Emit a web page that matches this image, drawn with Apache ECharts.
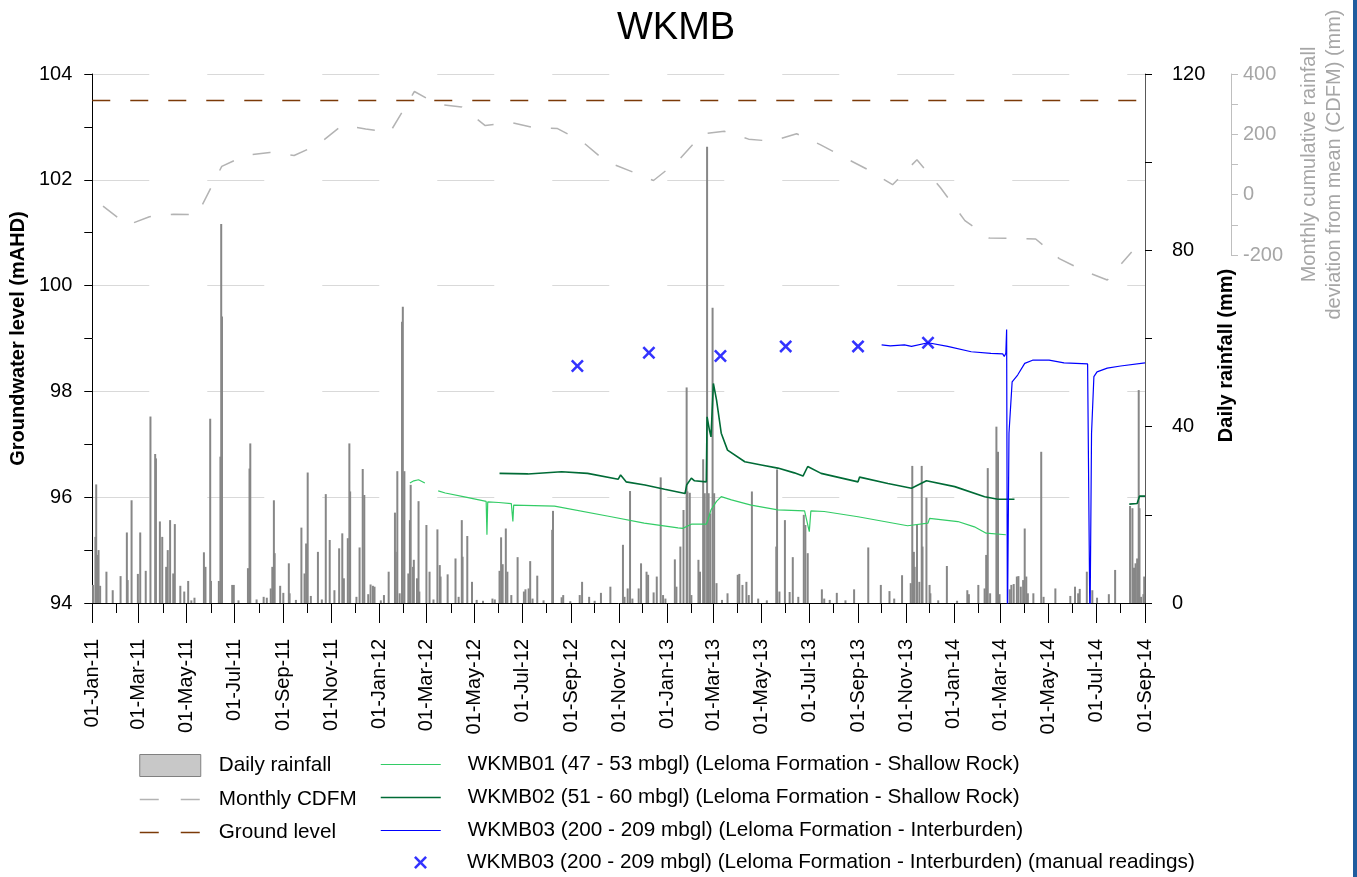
<!DOCTYPE html>
<html><head><meta charset="utf-8">
<script src="https://cdn.jsdelivr.net/npm/echarts@6/dist/echarts.min.js"></script>
<style>html,body{margin:0;padding:0;background:#fff;}#c{width:1357px;height:877px;}</style>
</head><body><div id="c"></div>
<script>
// ---------------- data ----------------
const xStart = '2011-01-01';
const xEnd = '2014-09-01';
const xLabelDates = ['2011-01-01','2011-03-01','2011-05-01','2011-07-01','2011-09-01','2011-11-01',
  '2012-01-01','2012-03-01','2012-05-01','2012-07-01','2012-09-01','2012-11-01',
  '2013-01-01','2013-03-01','2013-05-01','2013-07-01','2013-09-01','2013-11-01',
  '2014-01-01','2014-03-01','2014-05-01','2014-07-01','2014-09-01'];
const xLabels = ['01-Jan-11','01-Mar-11','01-May-11','01-Jul-11','01-Sep-11','01-Nov-11',
  '01-Jan-12','01-Mar-12','01-May-12','01-Jul-12','01-Sep-12','01-Nov-12',
  '01-Jan-13','01-Mar-13','01-May-13','01-Jul-13','01-Sep-13','01-Nov-13',
  '01-Jan-14','01-Mar-14','01-May-14','01-Jul-14','01-Sep-14'];
const xMinorTickDates = ['2011-02-01','2011-04-01','2011-06-01','2011-08-01','2011-10-01','2011-12-01',
  '2012-02-01','2012-04-01','2012-06-01','2012-08-01','2012-10-01','2012-12-01',
  '2013-02-01','2013-04-01','2013-06-01','2013-08-01','2013-10-01','2013-12-01',
  '2014-02-01','2014-04-01','2014-06-01','2014-08-01'];

const groundLevel = 103.5;

const cdfmDates = ['2011-01-15','2011-02-15','2011-03-15','2011-04-15','2011-05-15','2011-06-15','2011-07-15','2011-08-15','2011-09-15','2011-10-15','2011-11-15','2011-12-15',
  '2012-01-15','2012-02-15','2012-03-15','2012-04-15','2012-05-15','2012-06-15','2012-07-15','2012-08-15','2012-09-15','2012-10-15','2012-11-15','2012-12-15',
  '2013-01-15','2013-02-15','2013-03-15','2013-04-15','2013-05-15','2013-06-15','2013-07-15','2013-08-15','2013-09-15','2013-10-15','2013-11-15','2013-12-15',
  '2014-01-15','2014-02-15','2014-03-15','2014-04-15','2014-05-15','2014-06-15','2014-07-15','2014-08-15'];
const cdfmValues = [-38,-101,-73,-65,-66,94,130,140,130,165,230,218,
  207,342,300,291,229,240,223,219,177,111,79,47,
  111,202,210,184,177,202,166,123,81,33,116,23,
  -86,-144,-145,-147,-212,-252,-283,-190];

const dailyRainfall = [
 ['2011-01-02',4.1],['2011-01-05',15],['2011-01-06',26.9],['2011-01-07',10.9],['2011-01-09',12],['2011-01-11',3.9],['2011-01-19',7.1],['2011-01-27',2.9],
 ['2011-02-06',6.1],['2011-02-14',16],['2011-02-15',5.2],['2011-02-20',23.3],['2011-02-28',6.6],['2011-03-03',16],['2011-03-10',7.3],['2011-03-16',42.3],
 ['2011-03-22',33.8],['2011-03-23',32.8],['2011-03-28',18.5],['2011-03-31',15],['2011-04-05',8.2],['2011-04-07',12],['2011-04-10',18.8],['2011-04-14',6.7],
 ['2011-04-16',17.9],['2011-04-23',3.9],['2011-04-28',2.6],['2011-05-03',5],['2011-05-07',0.6],['2011-05-11',1.2],['2011-05-23',11.5],['2011-05-25',8.2],['2011-05-31',41.8],
 ['2011-06-01',5],['2011-06-11',5],['2011-06-13',33.2],['2011-06-14',86],['2011-06-15',65],['2011-06-28',4.1],['2011-06-30',4.1],['2011-07-06',0.6],['2011-07-18',7.9],
 ['2011-07-20',30.5],['2011-07-21',36.2],['2011-07-29',0.8],['2011-08-07',1.4],['2011-08-11',1.2],['2011-08-16',3.3],['2011-08-18',8.2],['2011-08-20',23.3],['2011-08-21',11.3],
 ['2011-08-28',3.9],['2011-09-01',2.3],['2011-09-08',9],['2011-09-09',2.2],['2011-09-17',0.7],['2011-09-24',17.1],['2011-09-28',6.7],['2011-09-30',13.5],['2011-10-02',29.6],
 ['2011-10-06',1.6],['2011-10-15',11.6],['2011-10-20',0.8],['2011-10-25',24.7],['2011-10-30',14.3],['2011-11-05',2.9],['2011-11-11',12.4],['2011-11-15',15.8],['2011-11-17',5.6],
 ['2011-11-22',14.7],['2011-11-24',36.2],['2011-11-25',25.3],['2011-12-03',1.4],['2011-12-07',12.6],['2011-12-11',30.4],['2011-12-13',24.5],['2011-12-18',2],
 ['2011-12-21',4.2],['2011-12-24',3.9],['2011-12-26',3.7],
 ['2012-01-03',0.6],['2012-01-07',1.8],['2012-01-13',7.1],['2012-01-21',20.5],['2012-01-22',11.6],['2012-01-24',29.9],['2012-01-27',2.2],['2012-01-30',63.8],['2012-01-31',67.2],
 ['2012-02-02',29.9],['2012-02-07',6.7],['2012-02-09',18.8],['2012-02-10',26.8],['2012-02-13',8.2],['2012-02-14',9.8],['2012-02-18',5.6],['2012-02-20',23.1],
 ['2012-02-21',2.6],['2012-03-01',17.7],['2012-03-05',7.1],['2012-03-10',0.8],['2012-03-15',16.7],['2012-03-18',8.6],['2012-03-19',6],['2012-03-28',6.5],['2012-04-07',10.1],
 ['2012-04-11',1.4],['2012-04-15',18.8],['2012-04-16',10.5],['2012-04-22',15.2],['2012-04-28',4.8],['2012-05-04',0.7],['2012-05-12',0.5],['2012-05-24',1],['2012-05-27',0.8],
 ['2012-06-02',7.3],['2012-06-04',14.9],['2012-06-06',8.8],['2012-06-10',16.9],['2012-06-12',7.1],['2012-06-17',1.8],['2012-06-25',10.4],['2012-07-03',2.6],
 ['2012-07-05',3.1],['2012-07-09',3.3],['2012-07-11',9.5],['2012-07-14',1],['2012-07-20',6.2],['2012-07-28',0.6],['2012-08-08',16.6],['2012-08-09',20.9],['2012-08-20',1.3],
 ['2012-08-22',1.8],['2012-08-31',0.4],['2012-09-12',1.8],['2012-09-15',4.8],['2012-09-24',1.4],['2012-10-01',0.5],['2012-10-09',2.3],['2012-10-21',3.7],['2012-11-06',13.2],
 ['2012-11-08',1.4],['2012-11-12',3.3],['2012-11-15',25.4],['2012-11-18',1],['2012-11-26',3.3],['2012-11-29',9],['2012-12-06',7.1],['2012-12-08',6.4],
 ['2012-12-15',2.4],['2012-12-19',6],['2012-12-24',28.5],['2012-12-27',1.8],['2012-12-30',1],
 ['2013-01-11',9.9],['2013-01-13',3.7],['2013-01-18',12.8],['2013-01-22',21.1],['2013-01-26',48.9],['2013-01-27',25.3],['2013-01-30',25],['2013-02-01',1.8],
 ['2013-02-10',9.8],['2013-02-12',7.1],['2013-02-16',32.6],['2013-02-18',24.9],['2013-02-21',103.5],['2013-02-23',24.9],['2013-02-25',20.3],['2013-02-28',67],
 ['2013-03-02',24.9],['2013-03-05',4.5],['2013-03-12',0.7],['2013-03-19',2.2],['2013-04-01',6.4],['2013-04-03',6.6],['2013-04-07',4.1],['2013-04-12',4.8],['2013-04-15',1.8],
 ['2013-04-19',25.3],['2013-04-27',1],['2013-05-08',0.6],['2013-05-20',12.8],['2013-05-21',30.3],['2013-05-24',2.6],['2013-05-31',18.8],['2013-06-06',2.5],['2013-06-10',10.4],
 ['2013-06-17',1.4],['2013-06-24',20],['2013-06-26',17.7],['2013-06-29',11.3],['2013-07-17',3.1],['2013-07-20',1],['2013-07-27',0.7],['2013-08-05',2.3],
 ['2013-08-16',0.6],['2013-08-27',3.1],['2013-09-14',12.6],['2013-09-30',4.1],['2013-10-11',2.7],['2013-10-17',1],['2013-10-27',6.3],['2013-11-07',4.5],['2013-11-09',31.1],
 ['2013-11-11',11.6],['2013-11-12',8.2],['2013-11-15',17.7],['2013-11-18',4.8],['2013-11-21',31.1],['2013-11-22',12.8],['2013-11-27',23.9],['2013-12-01',4.1],
 ['2013-12-02',2.2],['2013-12-12',0.6],['2013-12-23',8.4],
 ['2014-01-05',0.5],['2014-01-18',2.9],['2014-01-20',2],['2014-02-01',4.1],['2014-02-09',3.3],['2014-02-11',10.9],['2014-02-13',30.6],['2014-02-16',2.2],['2014-02-24',40],
 ['2014-02-26',34.3],['2014-02-28',2],['2014-03-13',3.1],['2014-03-15',4.1],['2014-03-18',4.3],['2014-03-22',6],['2014-03-24',6.1],['2014-03-27',3.7],
 ['2014-03-30',5.2],['2014-04-01',16.9],['2014-04-03',6],['2014-04-05',2.2],['2014-04-12',2.2],['2014-04-22',34.3],['2014-04-25',1.4],['2014-05-10',3.3],
 ['2014-05-29',1.6],['2014-06-04',3.7],['2014-06-08',2.2],['2014-06-10',3.2],['2014-06-19',7.1],['2014-06-26',2.9],['2014-07-02',1.2],['2014-07-17',2],
 ['2014-07-25',7.5],['2014-08-13',22],['2014-08-16',21.5],['2014-08-18',8],['2014-08-20',9],['2014-08-22',10.1],['2014-08-24',48.3],['2014-08-25',21.5],
 ['2014-08-27',1.4],['2014-08-30',2],['2014-08-31',6]
];

const wkmb01 = [
 ['2012-02-09',96.27],['2012-02-14',96.31],['2012-02-20',96.33],['2012-02-28',96.27],['2012-03-07','-'],['2012-03-16',96.12],['2012-03-25',96.08],
 ['2012-04-20',96.0],['2012-05-16',95.92],['2012-05-17',95.29],['2012-05-18',95.91],['2012-06-01',95.9],['2012-06-17',95.88],['2012-06-19',95.54],
 ['2012-06-20',95.85],['2012-06-21',95.82],['2012-08-11',95.83],['2012-10-22',95.63],['2012-12-03',95.51],['2013-01-15',95.42],['2013-01-21',95.41],
 ['2013-02-01',95.49],['2013-02-20',95.49],['2013-02-22',95.57],['2013-02-26',95.76],['2013-03-05',95.92],['2013-03-11',96.01],['2013-03-24',95.95],
 ['2013-04-18',95.85],['2013-05-22',95.76],['2013-06-25',95.74],['2013-07-01',95.35],['2013-07-03',95.74],['2013-07-20',95.73],['2013-09-01',95.63],
 ['2013-11-03',95.46],['2013-11-29',95.51],['2013-12-01',95.60],['2014-01-06',95.54],['2014-01-27',95.44],['2014-02-11',95.32],['2014-03-08',95.29]
];
const wkmb02 = [
 ['2012-06-02',96.45],['2012-07-08',96.44],['2012-08-20',96.48],['2012-09-22',96.45],['2012-10-31',96.34],['2012-11-03',96.42],['2012-11-10',96.29],
 ['2012-12-04',96.23],['2012-12-29',96.15],['2013-01-24',96.07],['2013-01-26',96.23],['2013-02-01',96.36],['2013-02-05',96.31],['2013-02-20',96.29],
 ['2013-02-21',97.52],['2013-02-24',97.27],['2013-02-26',97.14],['2013-03-01',98.15],['2013-03-05',97.84],['2013-03-11',97.21],['2013-03-19',96.89],
 ['2013-04-10',96.67],['2013-05-01',96.61],['2013-05-22',96.55],['2013-06-12',96.46],['2013-06-23',96.40],['2013-06-29',96.58],['2013-07-16',96.45],
 ['2013-09-01',96.29],['2013-09-03',96.38],['2013-10-09',96.26],['2013-11-08',96.17],['2013-11-27',96.31],['2014-01-02',96.20],['2014-02-09',96.01],
 ['2014-02-26',95.96],['2014-03-19',95.96],['2014-04-01','-'],['2014-08-12',95.87],['2014-08-22',95.88],['2014-08-25',96.02],['2014-09-01',96.02]
];
const wkmb03 = [
 ['2013-10-01',98.88],['2013-10-12',98.86],['2013-10-30',98.88],['2013-11-08',98.85],['2013-11-29',98.92],['2013-12-24',98.85],['2014-01-23',98.75],
 ['2014-02-17',98.72],['2014-03-04',98.71],['2014-03-06',98.66],['2014-03-08',98.72],['2014-03-09',99.17],['2014-03-10',93.5],['2014-03-12',97.21],
 ['2014-03-16',98.18],['2014-03-23',98.31],['2014-04-01',98.53],['2014-04-11',98.59],['2014-05-02',98.59],['2014-05-21',98.54],['2014-06-20',98.52],
 ['2014-06-22',98.52],['2014-06-23',93.5],['2014-06-25',97.21],['2014-06-28',98.28],['2014-07-02',98.37],['2014-07-15',98.44],['2014-08-01',98.48],
 ['2014-09-01',98.54]
];
const wkmb03Manual = [
 ['2012-09-09',98.48],['2012-12-09',98.73],['2013-03-10',98.67],['2013-06-01',98.85],['2013-09-01',98.85],['2013-11-29',98.92]
];

// ---------------- chart ----------------
const ts = s => { const p = s.split('-').map(Number); return new Date(p[0], p[1]-1, p[2]).getTime(); };
const xMin = ts(xStart), xMax = ts(xEnd);
const labelTicks = xLabelDates.map(ts);
const minorTicks = xMinorTickDates.map(ts);
const FONT = '"Liberation Sans", Arial, sans-serif';

const names = {
  rain: 'Daily rainfall', cdfm: 'Monthly CDFM', ground: 'Ground level',
  w1: 'WKMB01 (47 - 53 mbgl) (Leloma Formation - Shallow Rock)',
  w2: 'WKMB02 (51 - 60 mbgl) (Leloma Formation - Shallow Rock)',
  w3: 'WKMB03 (200 - 209 mbgl) (Leloma Formation - Interburden)',
  w3m: 'WKMB03 (200 - 209 mbgl) (Leloma Formation - Interburden) (manual readings)'
};
const colors = {cdfm: '#b3b3b3', ground: '#7b3a08', w1: '#33cc66', w2: '#006b36', w3: '#0000ff'};
const crossPath = 'path://M0,1.4L1.4,0L5,3.6L8.6,0L10,1.4L6.4,5L10,8.6L8.6,10L5,6.4L1.4,10L0,8.6L3.6,5Z';

const chart = echarts.init(document.getElementById('c'), null, {renderer: 'canvas'});
const legendText = pad => ({fontSize: 20.7, color: '#000', fontFamily: FONT, padding: [0, 0, 0, pad]});
const hidden = {opacity: 0};
chart.setOption({
  animation: false,
  textStyle: {fontFamily: FONT},
  title: {text: 'WKMB', left: 612, top: 5, textStyle: {fontSize: 38, fontWeight: 'normal', color: '#000', fontFamily: FONT}},
  graphic: [{type: 'rect', right: 0, top: 0, shape: {width: 4, height: 877}, style: {fill: '#1f5c9e'}}],
  grid: [
    {left: 92, right: 212, top: 74, bottom: 274},
    {left: 92, right: 212, top: 74, height: 181}
  ],
  legend: [
    {orient: 'vertical', left: 139, top: 754, padding: 0, itemWidth: 61, itemHeight: 22, itemGap: 12, selectedMode: false,
     textStyle: legendText(13),
     data: [
       {name: names.rain, icon: 'rect', itemStyle: {color: '#c8c8c8', borderColor: '#808080', borderWidth: 1}},
       {name: names.cdfm, itemStyle: hidden, lineStyle: {color: colors.cdfm, width: 1.5, type: [19, 22]}},
       {name: names.ground, itemStyle: hidden, lineStyle: {color: colors.ground, width: 1.5, type: [19, 22]}}
     ]},
    {orient: 'vertical', left: 380, top: 754, padding: 0, itemWidth: 60, itemHeight: 22, itemGap: 12, selectedMode: false,
     textStyle: legendText(22),
     data: [
       {name: names.w1, itemStyle: hidden, lineStyle: {color: colors.w1, width: 1.2, type: 'solid'}},
       {name: names.w2, itemStyle: hidden, lineStyle: {color: colors.w2, width: 1.5, type: 'solid'}},
       {name: names.w3, itemStyle: hidden, lineStyle: {color: colors.w3, width: 1.2, type: 'solid'}}
     ]},
    {orient: 'vertical', left: 414, top: 852, padding: 0, itemWidth: 13, itemHeight: 13, selectedMode: false,
     textStyle: legendText(35),
     data: [{name: names.w3m, icon: crossPath, itemStyle: {color: colors.w3}}]}
  ],
  xAxis: [
    {type: 'value', gridIndex: 0, min: xMin, max: xMax, scale: true,
     axisLine: {show: true, onZero: false, lineStyle: {color: '#000', width: 1}},
     axisTick: {show: true, customValues: labelTicks, length: 20, lineStyle: {color: '#000'}},
     axisLabel: {show: true, customValues: labelTicks, rotate: 90, fontSize: 20, color: '#000', margin: 36,
       formatter: v => { const i = labelTicks.indexOf(v); return i >= 0 ? xLabels[i] : ''; }},
     splitLine: {show: false}},
    {type: 'value', gridIndex: 1, min: xMin, max: xMax, scale: true, show: false},
    {type: 'value', gridIndex: 0, min: xMin, max: xMax, scale: true, position: 'bottom',
     axisLine: {show: false, onZero: false}, axisLabel: {show: false}, splitLine: {show: false},
     axisTick: {show: true, customValues: minorTicks, length: 10, lineStyle: {color: '#000'}}}
  ],
  yAxis: [
    {type: 'value', gridIndex: 0, min: 94, max: 104, interval: 2, position: 'left',
     axisLine: {show: true, lineStyle: {color: '#000'}},
     axisTick: {show: true, length: 8, lineStyle: {color: '#000'}},
     minorTick: {show: true, splitNumber: 2, length: 8, lineStyle: {color: '#000'}},
     axisLabel: {fontSize: 20, color: '#000', margin: 20},
     splitLine: {show: true, lineStyle: {color: '#d9d9d9', width: 1, type: [57, 58]}},
     name: 'Groundwater level (mAHD)', nameLocation: 'middle', nameGap: 62, nameRotate: 90,
     nameTextStyle: {fontSize: 20, fontWeight: 'bold', color: '#000'}},
    {type: 'value', gridIndex: 0, min: 0, max: 120, interval: 40, position: 'right',
     axisLine: {show: true, lineStyle: {color: '#595959'}},
     axisTick: {show: true, length: 7, lineStyle: {color: '#000'}},
     minorTick: {show: true, splitNumber: 2, length: 7, lineStyle: {color: '#000'}},
     axisLabel: {fontSize: 20, color: '#000', margin: 27},
     splitLine: {show: false},
     name: 'Daily rainfall (mm)', nameLocation: 'middle', nameGap: 59, nameRotate: 90,
     nameTextStyle: {fontSize: 20, fontWeight: 'bold', color: '#000', padding: [0, 34, 0, 0]}},
    {type: 'value', gridIndex: 1, min: -200, max: 400, interval: 200, position: 'right', offset: 86,
     axisLine: {show: true, lineStyle: {color: '#bfbfbf'}},
     axisTick: {show: true, length: 7, lineStyle: {color: '#bfbfbf'}},
     minorTick: {show: true, splitNumber: 2, length: 7, lineStyle: {color: '#bfbfbf'}},
     axisLabel: {fontSize: 20, color: '#a6a6a6', margin: 12},
     splitLine: {show: false},
     name: 'Monthly cumulative rainfall\ndeviation from mean (CDFM) (mm)', nameLocation: 'middle', nameGap: 66, nameRotate: 90,
     nameTextStyle: {fontSize: 20, color: '#a6a6a6', lineHeight: 25, align: 'center'}}
  ],
  series: [
    {name: names.rain, type: 'bar', xAxisIndex: 0, yAxisIndex: 1, barWidth: 2,
     itemStyle: {color: '#878787'}, data: dailyRainfall.map(d => [ts(d[0]), d[1]])},
    {name: names.cdfm, type: 'line', xAxisIndex: 1, yAxisIndex: 2, symbol: 'none', showSymbol: false, clip: false,
     itemStyle: {color: colors.cdfm}, lineStyle: {color: colors.cdfm, width: 1.5, type: [18, 20]},
     data: cdfmDates.map((d, i) => [ts(d), cdfmValues[i]])},
    {name: names.ground, type: 'line', xAxisIndex: 0, yAxisIndex: 0, symbol: 'none', showSymbol: false,
     itemStyle: {color: colors.ground}, lineStyle: {color: colors.ground, width: 1.5, type: [18, 20]},
     data: [[xMin, groundLevel], [xMax, groundLevel]]},
    {name: names.w1, type: 'line', xAxisIndex: 0, yAxisIndex: 0, symbol: 'none', showSymbol: false,
     itemStyle: {color: colors.w1}, lineStyle: {color: colors.w1, width: 1.2},
     data: wkmb01.map(d => [ts(d[0]), d[1]])},
    {name: names.w2, type: 'line', xAxisIndex: 0, yAxisIndex: 0, symbol: 'none', showSymbol: false,
     itemStyle: {color: colors.w2}, lineStyle: {color: colors.w2, width: 1.6},
     data: wkmb02.map(d => [ts(d[0]), d[1]])},
    {name: names.w3, type: 'line', xAxisIndex: 0, yAxisIndex: 0, symbol: 'none', showSymbol: false,
     itemStyle: {color: colors.w3}, lineStyle: {color: colors.w3, width: 1.2},
     data: wkmb03.map(d => [ts(d[0]), d[1]])},
    {name: names.w3m, type: 'scatter', xAxisIndex: 0, yAxisIndex: 0, symbol: crossPath, symbolSize: 13,
     itemStyle: {color: colors.w3},
     data: wkmb03Manual.map(d => [ts(d[0]), d[1]])}
  ]
});
</script>
</body></html>
